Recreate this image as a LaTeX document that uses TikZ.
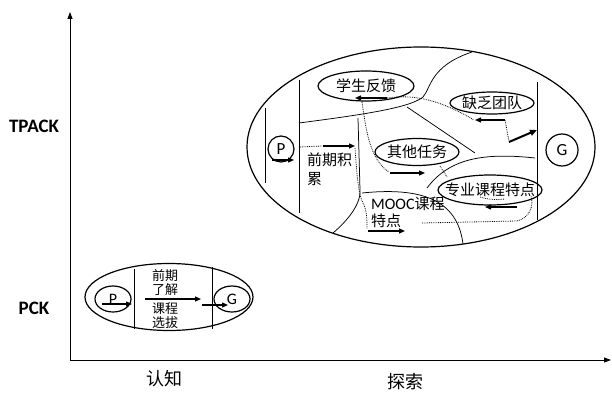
\documentclass[tikz,border=0pt]{standalone}
\usepackage{fontspec}
\setmainfont{Carlito}
\newfontfamily\cjk{Noto Sans CJK SC}
\usetikzlibrary{shapes.geometric,arrows.meta}
\begin{document}
\begin{tikzpicture}[x=1pt,y=-1pt,
  ell/.style={draw,ellipse,line width=1.2pt,inner sep=0pt},
  rnd/.style={draw,circle,line width=1.2pt,inner sep=0pt,font=\fontsize{17}{17}\selectfont},
  lab/.style={font=\cjk\fontsize{15}{18}\selectfont,inner sep=0pt},
  slab/.style={font=\cjk\fontsize{13}{14}\selectfont,inner sep=0pt,align=center},
  axlab/.style={font=\bfseries\fontsize{19}{21}\selectfont,inner sep=0pt},
  bound/.style={line width=0.75pt},
  dotl/.style={densely dotted,line width=0.8pt},
  arr/.style={line width=1.3pt,-{Triangle[length=6pt,width=5pt]}},
  barr/.style={line width=2pt,-{Triangle[length=7pt,width=6pt]}},
  axis/.style={line width=0.9pt,-{Triangle[length=7pt,width=5pt]}}
]
\useasboundingbox (0,0) rectangle (612,393);
\fill[white] (0,0) rectangle (612,393);

% axes
\coordinate (O) at (70,360);
\coordinate (Ytip) at (70,12);
\coordinate (Xtip) at (611,360);
\draw[axis] (O) -- (Ytip);
\draw[axis] (O) -- (Xtip);
\node[axlab] (tpack) at (34,126) {TPACK};
\node[axlab] (pck) at (34,308) {PCK};
\node[inner sep=0pt,font=\cjk\fontsize{18}{20}\selectfont] (renzhi) at (164,379) {认知};
\node[inner sep=0pt,font=\cjk\fontsize{18}{20}\selectfont] (tansuo) at (405,382) {探索};

% ---------- small ellipse (PCK) ----------
\node[ell,minimum width=168pt,minimum height=67pt] (small) at (169,297) {};
\node[ell,minimum width=36pt,minimum height=26pt,font=\fontsize{16}{16}\selectfont] (sP) at (113,299) {P};
\node[ell,minimum width=36pt,minimum height=26pt,font=\fontsize{16}{16}\selectfont] (sG) at (232,299) {G};
\coordinate (sl1) at (134,269); \coordinate (sl2) at (134,329);
\coordinate (sr1) at (212,267); \coordinate (sr2) at (212,329);
\draw[bound] (sl1) -- (sl2);
\draw[bound] (sr1) -- (sr2);
\node[slab] (qiqi) at (165,283) {前期\\了解};
\node[slab] (kecheng) at (165,316) {课程\\选拔};
\coordinate (sa1) at (102,304); \coordinate (sa2) at (132,304);
\coordinate (sb1) at (145,299); \coordinate (sb2) at (201,299);
\coordinate (sc1) at (202,305); \coordinate (sc2) at (228,305);
\draw[arr] (sa1) -- (sa2);
\draw[arr] (sb1) -- (sb2);
\draw[arr] (sc1) -- (sc2);

% ---------- big ellipse (TPACK) ----------
\node[ell,minimum width=348pt,minimum height=200pt] (big) at (421,147) {};
\node[rnd,minimum size=26pt] (bP) at (281,149) {P};
\node[rnd,minimum size=32pt] (bG) at (562,150) {G};

\node[ell,minimum width=96pt,minimum height=30pt,label={[lab]center:学生反馈}] (fb) at (366,86) {};
\node[ell,minimum width=84pt,minimum height=22pt,label={[lab]center:缺乏团队}] (team) at (492,103) {};
\node[ell,minimum width=84pt,minimum height=27pt,label={[lab]center:其他任务}] (other) at (417,152) {};
\node[ell,minimum width=104pt,minimum height=30pt,label={[lab]center:专业课程特点}] (spec) at (490,190) {};

\node[lab,anchor=north west,align=left,font=\cjk\fontsize{15}{19}\selectfont] (qjjl) at (307,153) {前期积\\累};
\node[lab,anchor=north west,align=left,font=\cjk\fontsize{15}{16.5}\selectfont] (mooc) at (371,197) {{\fontspec{Carlito}\fontsize{16}{16.5}\selectfont MOOC}课程\\特点};

% region boundaries
\draw[bound] (265,108) -- (265,183);
\draw[bound] (299,80) -- (299,213);
\draw[bound] (537,82) -- (537,220);
\draw[bound] (299,123) .. controls (360,115) and (410,108) .. (423,97)
                       .. controls (431,88) and (430,66) .. (472,52);
\draw[bound] (407,107) -- (475,153);
\draw[bound] (427,188) .. controls (448,160) and (480,152) .. (535,158);
\draw[bound] (358,118) -- (360,190) .. controls (361,205) and (346,222) .. (333,233);
\draw[bound] (362,193) .. controls (430,186) and (458,205) .. (463,244);

% paths and arrows
\coordinate (p1) at (300,147); \coordinate (p2) at (322,146);
\coordinate (a1s) at (323,146); \coordinate (a1e) at (355,146);
\draw[dotl] (p1) -- (p2);
\draw[arr] (a1s) -- (a1e);
\draw[arr] (272,160) -- (294,160);

\coordinate (m1) at (355,148); \coordinate (m2) at (367,229);
\draw[dotl] (m1) .. controls (357,175) and (358,195) .. (364,205) .. controls (367,212) and (367,222) .. (m2);
\coordinate (a2s) at (368,231); \coordinate (a2e) at (405,231);
\draw[arr] (a2s) -- (a2e);

\coordinate (s1) at (422,223); \coordinate (s2) at (531,196);
\draw[dotl] (s1) -- (517,221) .. controls (530,218) and (534,205) .. (s2);
\coordinate (a3s) at (517,207); \coordinate (a3e) at (485,207);
\draw[arr] (a3s) -- (a3e);
\draw[dotl] (480,197) .. controls (490,200) and (498,200) .. (505,199);

\coordinate (f1) at (387,98); \coordinate (f2) at (355,98);
\draw[arr] (f1) -- (f2);
\draw[dotl] (f1) .. controls (415,94) and (440,100) .. (474,120);
\coordinate (a4s) at (505,120); \coordinate (a4e) at (475,120);
\draw[arr] (a4s) -- (a4e);
\coordinate (t1) at (509,141);
\draw[dotl] (a4s) -- (t1);
\coordinate (a5s) at (509,142); \coordinate (a5e) at (537,130);
\draw[barr] (a5s) -- (a5e);

\coordinate (o1) at (362,102); \coordinate (o2) at (389,172);
\draw[dotl] (o1) .. controls (366,130) and (370,160) .. (o2);
\coordinate (a6s) at (390,173); \coordinate (a6e) at (425,173);
\draw[arr] (a6s) -- (a6e);
\draw[dotl] (440,166) -- (447,177);
\end{tikzpicture}
\end{document}
